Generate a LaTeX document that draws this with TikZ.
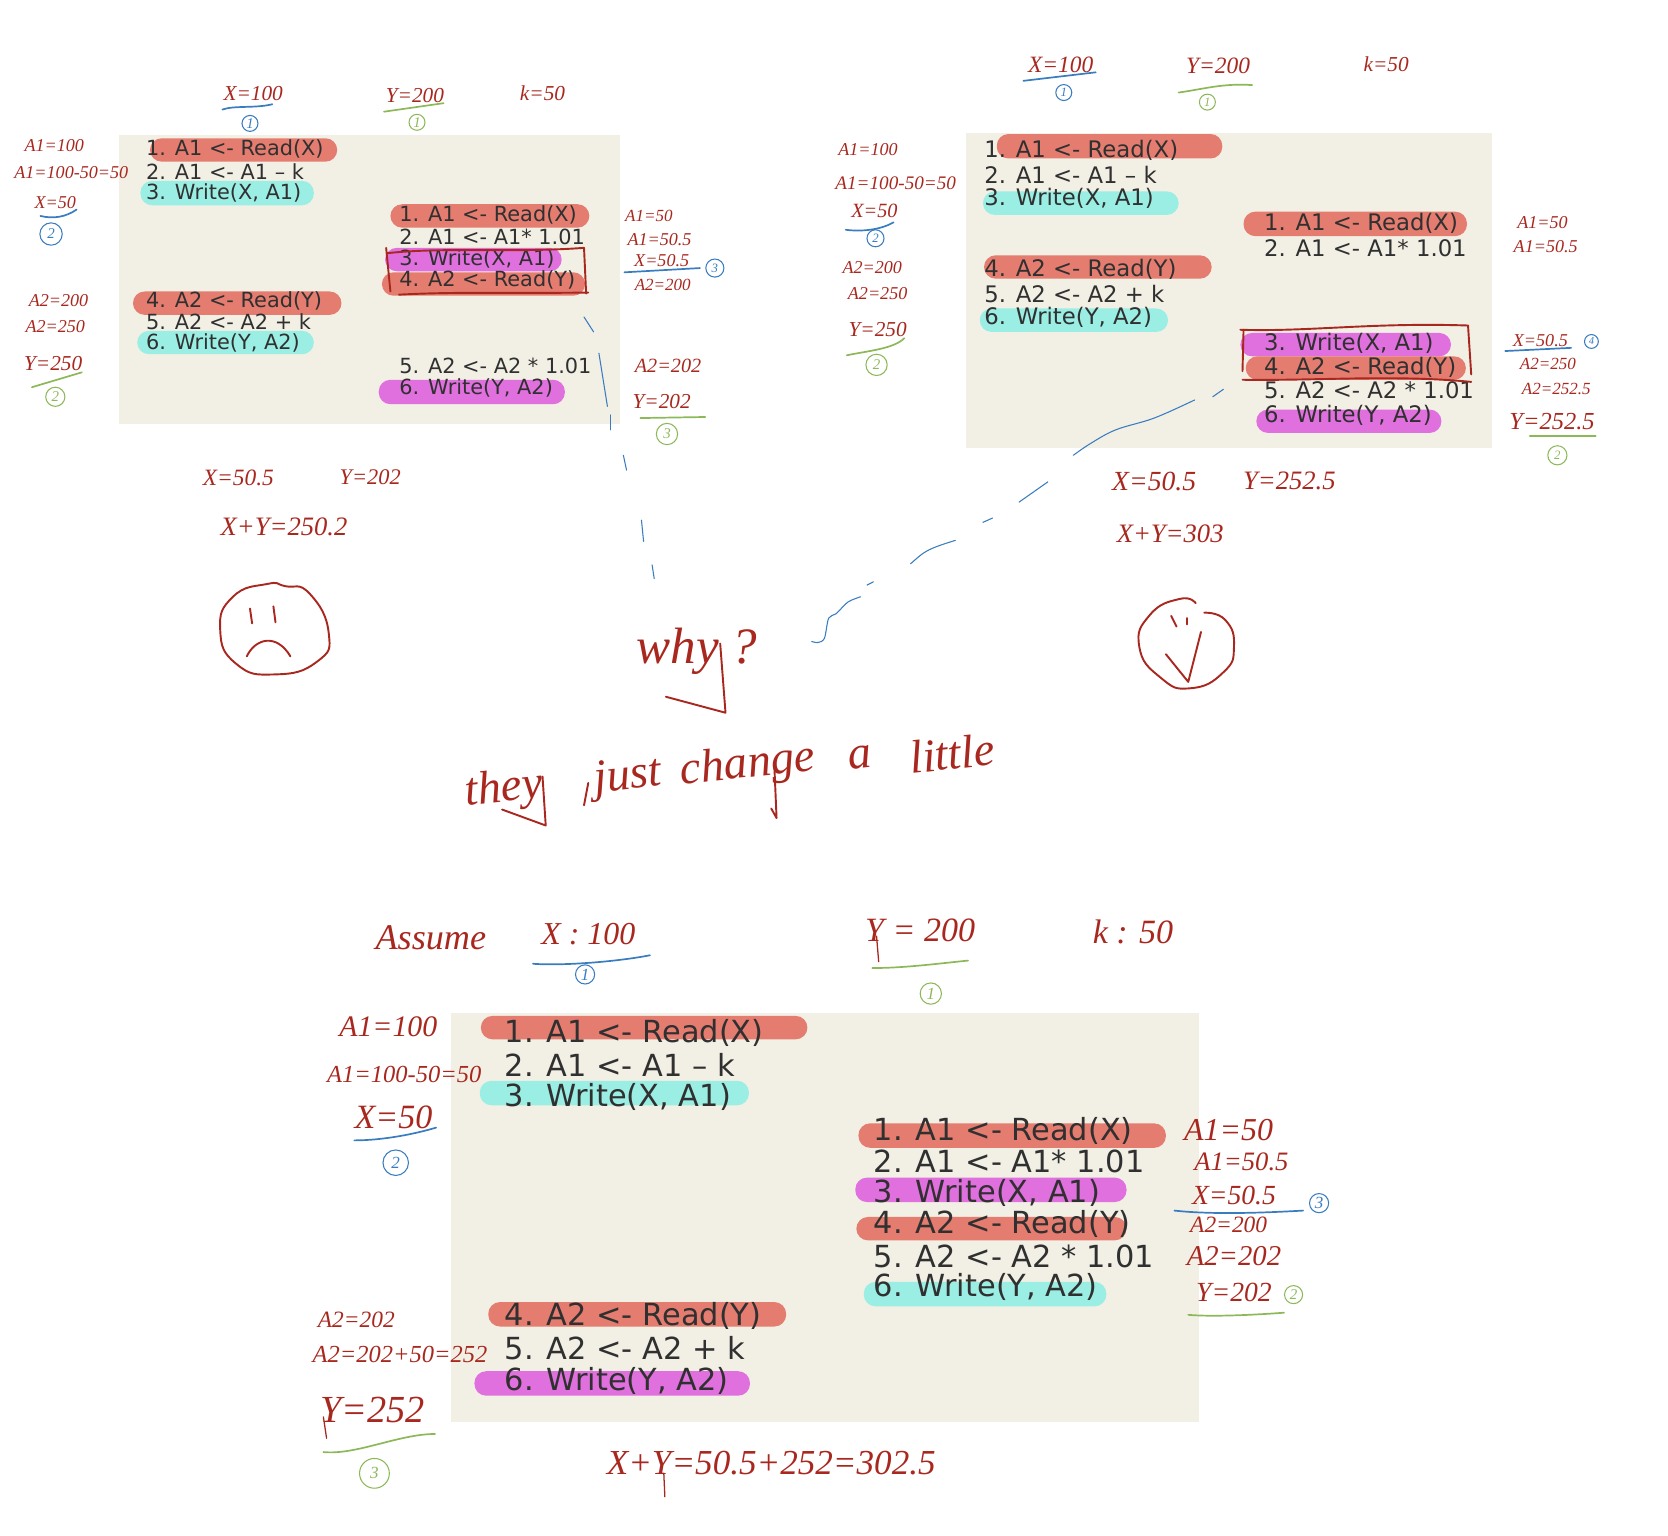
\documentclass[tikz,border=0pt]{standalone}
\usepackage{fontspec}
\setmainfont{DejaVu Sans}
\newfontfamily\hand{Liberation Serif}
\definecolor{panelbg}{HTML}{F2F0E5}
\definecolor{pred}{HTML}{E57C70}
\definecolor{pteal}{HTML}{9AEEE3}
\definecolor{ppurple}{HTML}{E170DF}
\definecolor{codeink}{HTML}{303030}
\definecolor{penred}{HTML}{A8281F}
\definecolor{penblue}{HTML}{3A7CC0}
\definecolor{pengreen}{HTML}{8DB85A}
\newcounter{nn}
\tikzset{
 panelbox/.style={fill=panelbg,draw=none},
 pillshape/.style={rounded corners=5.5pt},
 codetxt/.style={anchor=west,inner sep=0pt,text=codeink},
 handtxt/.style={inner sep=0pt,text=penred,font=\hand\itshape},
 penstroke/.style={penred,line width=0.9pt,line cap=round,line join=round},
 thinpen/.style={penred,line width=0.6pt,line cap=round,line join=round},
 bluestroke/.style={penblue,line width=0.5pt,line cap=round,line join=round},
 underblue/.style={penblue,line width=0.8pt,line cap=round},
 undergreen/.style={pengreen,line width=0.8pt,line cap=round},
 numcirc/.style={circle,draw,line width=0.5pt,inner sep=0pt,font=\hand\itshape\fontsize{#1}{#1}\selectfont},
}
\newcommand{\pillbar}[5]{\fill[#5,pillshape] (#1,#2) rectangle (#3,#4);}
\newcommand{\codeline}[4]{\stepcounter{nn}\node[codetxt,font=\fontsize{#1}{#1}\selectfont] (c\thenn) at (#2,#3) {#4};}
\newcommand{\hw}[5][0]{\stepcounter{nn}\node[handtxt,rotate=#1] (h\thenn) at (#3,#4) {\fontsize{#2}{#2}\selectfont #5};}
\newcommand{\circnum}[6]{\stepcounter{nn}\node[numcirc=#5,#3,text=#3,minimum size=#6] (n\thenn) at (#1,#2) {#4};}
\begin{document}
\begin{tikzpicture}[x=0.5pt,y=-0.5pt]
\useasboundingbox (0,0) rectangle (1568,1443);

%% ---------- top-left panel
\fill[panelbox] (112,127) rectangle (583,399);
\pillbar{141}{130}{317}{152}{pred}
\pillbar{132}{170}{295}{193}{pteal}
\pillbar{125}{274}{321}{296}{pred}
\pillbar{129}{311}{295}{333}{pteal}
\pillbar{367}{192}{554}{214}{pred}
\pillbar{362}{233}{528}{255}{ppurple}
\pillbar{359}{256}{550}{278}{pred}
\pillbar{356}{357}{531}{380}{ppurple}
\codeline{9.8}{137}{140}{1. A1 <- Read(X)}
\codeline{9.8}{137}{161}{2. A1 <- A1 – k}
\codeline{9.8}{137}{181}{3. Write(X, A1)}
\codeline{9.8}{137}{283}{4. A2 <- Read(Y)}
\codeline{9.8}{137}{302}{5. A2 <- A2 + k}
\codeline{9.8}{137}{322}{6. Write(Y, A2)}
\codeline{9.8}{375}{202}{1. A1 <- Read(X)}
\codeline{9.8}{375}{223}{2. A1 <- A1* 1.01}
\codeline{9.8}{375}{243}{3. Write(X, A1)}
\codeline{9.8}{375}{263}{4. A2 <- Read(Y)}
\codeline{9.8}{375}{344}{5. A2 <- A2 * 1.01}
\codeline{9.8}{375}{365}{6. Write(Y, A2)}
\draw[penstroke] (364,238) .. controls (420,232) and (480,238) .. (549,233) -- (551,276);
\draw[penstroke] (553,275) .. controls (480,276) and (430,274) .. (375,277);
\draw[penstroke] (363,233) -- (367,274);

\hw{10}{238}{88}{X=100}
\hw{10}{390}{90}{Y=200}
\hw{10}{510}{88}{k=50}
\draw[underblue] (209,103) .. controls (220,99) and (240,102) .. (256,98);
\circnum{235}{116}{penblue}{1}{7}{7.5pt}
\draw[undergreen] (361,105) -- (417,97);
\circnum{392}{115}{pengreen}{1}{7}{7.5pt}

\hw{8.5}{51}{137}{A1=100}
\hw{8.5}{67}{162}{A1=100-50=50}
\hw{8.5}{52}{190}{X=50}
\draw[underblue] (38,203) .. controls (50,206) and (62,204) .. (72,197);
\circnum{48}{220}{penblue}{2}{7}{10.5pt}
\hw{8.5}{55}{283}{A2=200}
\hw{8.5}{52}{307}{A2=250}
\hw{10}{50}{342}{Y=250}
\draw[undergreen] (30,364) -- (77,350);
\circnum{52}{373}{pengreen}{2}{7}{9pt}

\hw{8}{610}{203}{A1=50}
\hw{8.5}{620}{225}{A1=50.5}
\hw{8.5}{622}{245}{X=50.5}
\draw[underblue] (587,256) -- (658,252);
\circnum{672}{252}{penblue}{3}{6}{8.5pt}
\hw{8}{623}{268}{A2=200}
\hw{9.5}{628}{344}{A2=202}
\hw{10}{622}{377}{Y=202}
\draw[undergreen] (602,393) -- (663,392);
\circnum{627}{408}{pengreen}{3}{7}{10pt}

\hw{11}{224}{449}{X=50.5}
\hw{10.5}{348}{449}{Y=202}
\hw{12.5}{267}{495}{X+Y=250.2}

%% sad face
\draw[penstroke] plot[smooth cycle,tension=0.9] coordinates {(207,592) (219,561) (251,549) (268,551) (291,558) (309,595) (298,622) (258,634) (222,624)};
\draw[penstroke] (235,572) -- (237,586);
\draw[penstroke] (257,570) -- (259,585);
\draw[penstroke] (232,617) .. controls (240,600) and (260,595) .. (273,617);

%% ---------- top-right panel
\fill[panelbox] (908,125) rectangle (1403,421);
\pillbar{937}{126}{1149}{149}{pred}
\pillbar{924}{180}{1108}{202}{pteal}
\pillbar{1169}{199}{1379}{222}{pred}
\pillbar{925}{240}{1139}{262}{pred}
\pillbar{921}{290}{1098}{312}{pteal}
\pillbar{1166}{313}{1364}{335}{ppurple}
\pillbar{1171}{335}{1378}{357}{pred}
\pillbar{1181}{385}{1355}{407}{ppurple}
\codeline{10.7}{925}{141}{1. A1 <- Read(X)}
\codeline{10.7}{925}{164}{2. A1 <- A1 – k}
\codeline{10.7}{925}{186}{3. Write(X, A1)}
\codeline{10.7}{925}{253}{4. A2 <- Read(Y)}
\codeline{10.7}{925}{276}{5. A2 <- A2 + k}
\codeline{10.7}{925}{298}{6. Write(Y, A2)}
\codeline{10.7}{1188}{210}{1. A1 <- Read(X)}
\codeline{10.7}{1188}{233}{2. A1 <- A1* 1.01}
\codeline{10.7}{1188}{323}{3. Write(X, A1)}
\codeline{10.7}{1188}{345}{4. A2 <- Read(Y)}
\codeline{10.7}{1188}{367}{5. A2 <- A2 * 1.01}
\codeline{10.7}{1188}{390}{6. Write(Y, A2)}
\draw[penstroke] (1166,310) .. controls (1230,312) and (1290,303) .. (1380,306) -- (1383,352);
\draw[penstroke] (1168,349) -- (1169,310);
\draw[penstroke] (1168,357) .. controls (1240,358) and (1310,352) .. (1383,359);

\hw{11}{997}{61}{X=100}
\draw[underblue] (962,76) -- (1030,68);
\circnum{1000}{87}{penblue}{1}{6}{7.5pt}
\hw{11}{1145}{62}{Y=200}
\draw[undergreen] (1108,87) .. controls (1130,84) and (1150,78) .. (1177,80);
\circnum{1135}{96}{pengreen}{1}{6}{7.5pt}
\hw{10}{1303}{60}{k=50}

\hw{8.5}{816}{141}{A1=100}
\hw{9}{842}{172}{A1=100-50=50}
\hw{9.5}{822}{198}{X=50}
\draw[underblue] (795,216) .. controls (810,218) and (828,216) .. (840,209);
\circnum{823}{224}{penblue}{2}{6}{8pt}
\hw{8.5}{820}{252}{A2=200}
\hw{8.5}{825}{276}{A2=250}
\hw{10}{825}{310}{Y=250}
\draw[undergreen] (796,334) .. controls (815,330) and (840,328) .. (850,318);
\circnum{824}{343}{pengreen}{2}{7}{10pt}

\hw{8.5}{1450}{209}{A1=50}
\hw{8.5}{1453}{232}{A1=50.5}
\hw{8.5}{1448}{320}{X=50.5}
\draw[underblue] (1415,330) -- (1477,327);
\circnum{1496}{321}{penblue}{4}{5}{6.5pt}
\hw{8}{1455}{342}{A2=250}
\hw{8}{1463}{366}{A2=252.5}
\hw{11.5}{1459}{396}{Y=252.5}
\draw[undergreen] (1438,410) -- (1500,410);
\circnum{1464}{428}{pengreen}{2}{6}{9pt}

\hw{13}{1085}{453}{X=50.5}
\hw{12.5}{1212}{452}{Y=252.5}
\hw{12.5}{1100}{502}{X+Y=303}

%% happy face
\draw[penstroke] plot[smooth,tension=0.9] coordinates {(1132,576) (1152,583) (1160,608) (1150,632) (1119,647) (1091,637) (1071,608) (1081,578) (1109,563) (1124,567)};
\draw[penstroke] (1101,579) -- (1106,589);
\draw[penstroke] (1116,581) -- (1116,587);
\draw[penstroke] (1096,615) -- (1117,641) -- (1129,594);

%% ---------- blue dashes
\draw[bluestroke] (549,298) -- (558,312);
\draw[bluestroke] (563,332) -- (571,382);
\draw[bluestroke] (574,390) -- (574,404);
\draw[bluestroke] (586,428) -- (589,442);
\draw[bluestroke] (603,489) -- (605,509);
\draw[bluestroke] (613,531) -- (615,544);
\draw[bluestroke] (1150,366) -- (1140,373);
\draw[bluestroke] plot[smooth,tension=0.6] coordinates {(1123,376) (1085,393) (1049,404) (1025,417) (1009,428)};
\draw[bluestroke] (985,453) -- (958,472);
\draw[bluestroke] (933,487) -- (924,491);
\draw[bluestroke] plot[smooth,tension=0.6] coordinates {(898,508) (880,514) (868,520) (856,530)};
\draw[bluestroke] (821,547) -- (815,550);
\draw[bluestroke] plot[smooth,tension=0.5] coordinates {(809,561) (797,566) (786,577) (779,581) (775,600) (769,604) (763,603)};

%% ---------- big handwriting
\hw{24}{655}{612}{why ?}
\draw[penstroke] (677,605) -- (682,670) -- (626,655);
\hw[6]{22}{474}{743}{they}
\draw[penstroke] (510,730) -- (513,776) -- (472,761);
\hw[6]{22}{590}{732}{just}
\draw[penstroke] (553,736) -- (549,757);
\hw[6]{22}{703}{720}{change}
\draw[penstroke] (728,722) -- (730,769) -- (725,760);
\hw[6]{22}{808}{712}{a}
\hw[6]{22}{895}{708}{little}

%% ---------- bottom panel
\fill[panelbox] (424,952) rectangle (1127,1337);
\pillbar{452}{955}{759}{977}{pred}
\pillbar{451}{1016}{704}{1039}{pteal}
\pillbar{807}{1056}{1096}{1079}{pred}
\pillbar{804}{1107}{1059}{1130}{ppurple}
\pillbar{805}{1144}{1059}{1166}{pred}
\pillbar{812}{1205}{1040}{1228}{pteal}
\pillbar{459}{1224}{739}{1247}{pred}
\pillbar{446}{1289}{705}{1312}{ppurple}
\codeline{14.3}{474}{971}{1. A1 <- Read(X)}
\codeline{14.3}{474}{1001}{2. A1 <- A1 – k}
\codeline{14.3}{474}{1031}{3. Write(X, A1)}
\codeline{14.3}{474}{1237}{4. A2 <- Read(Y)}
\codeline{14.3}{474}{1267}{5. A2 <- A2 + k}
\codeline{14.3}{474}{1298}{6. Write(Y, A2)}
\codeline{14.3}{821}{1063}{1. A1 <- Read(X)}
\codeline{14.3}{821}{1092}{2. A1 <- A1* 1.01}
\codeline{14.3}{821}{1121}{3. Write(X, A1)}
\codeline{14.3}{821}{1151}{4. A2 <- Read(Y)}
\codeline{14.3}{821}{1181}{5. A2 <- A2 * 1.01}
\codeline{14.3}{821}{1210}{6. Write(Y, A2)}

\hw{17}{405}{882}{Assume}
\hw{15}{553}{878}{X : 100}
\draw[underblue] (501,906) .. controls (530,908) and (580,904) .. (611,898);
\circnum{550}{916}{penblue}{1}{8}{9pt}
\hw{16}{865}{875}{Y = 200}
\draw[thinpen] (824,880) -- (826,904);
\draw[undergreen] (820,910) .. controls (850,910) and (880,906) .. (910,903);
\circnum{875}{934}{pengreen}{1}{8}{10pt}
\hw{16}{1065}{876}{k : 50}

\hw{14}{365}{965}{A1=100}
\hw{11.5}{380}{1010}{A1=100-50=50}
\hw{16}{370}{1050}{X=50}
\draw[underblue] (333,1072) .. controls (360,1072) and (390,1066) .. (410,1060);
\circnum{372}{1093}{penblue}{2}{8}{12pt}

\hw{15}{1155}{1062}{A1=50}
\hw{12.5}{1167}{1092}{A1=50.5}
\hw{13}{1160}{1124}{X=50.5}
\draw[underblue] (1104,1138) .. controls (1140,1142) and (1190,1140) .. (1225,1138);
\circnum{1240}{1131}{penblue}{3}{8}{9pt}
\hw{11}{1155}{1151}{A2=200}
\hw{13.5}{1160}{1181}{A2=202}
\hw{13}{1160}{1215}{Y=202}
\circnum{1216}{1217}{pengreen}{2}{7}{8.5pt}
\draw[undergreen] (1117,1236) .. controls (1140,1238) and (1180,1236) .. (1207,1234);

\hw{11}{335}{1241}{A2=202}
\hw{11.5}{376}{1273}{A2=202+50=252}
\hw{18}{350}{1325}{Y=252}
\draw[thinpen] (304,1332) -- (307,1352);
\draw[undergreen] (304,1365) .. controls (335,1368) and (375,1348) .. (409,1348);
\circnum{352}{1385}{pengreen}{3}{8}{14pt}

\hw{16.5}{725}{1375}{X+Y=50.5+252=302.5}
\draw[thinpen] (624,1385) -- (625,1407);
\end{tikzpicture}
\end{document}
